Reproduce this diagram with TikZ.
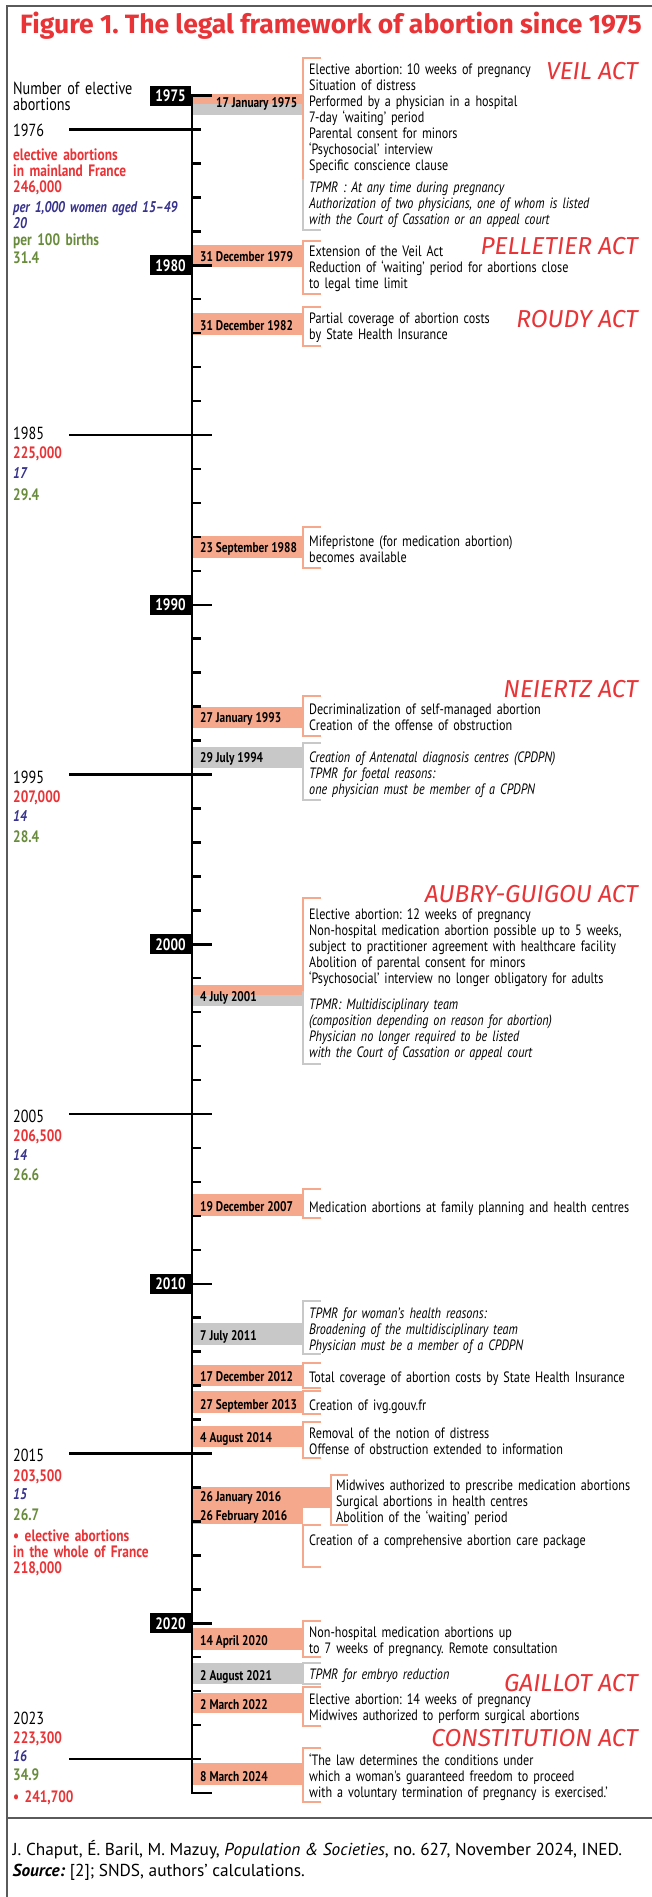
\documentclass[tikz,border=0pt]{standalone}
\usepackage{fontspec}
\setmainfont{PT Sans}
\newfontfamily\cnd[FakeStretch=0.81]{PT Sans}
\newfontfamily\ttl{Fira Sans}
\definecolor{ired}{RGB}{232,52,55}
\definecolor{salm}{RGB}{245,168,140}
\definecolor{lgry}{RGB}{200,200,200}
\definecolor{iblue}{RGB}{55,50,140}
\definecolor{igreen}{RGB}{105,140,60}
\definecolor{frm}{RGB}{90,90,90}
\frenchspacing
\tikzset{
  txt/.style={anchor=base west, inner sep=0pt, text width=345pt, align=left, font=\cnd\frenchspacing\fontsize{15}{16}\selectfont},
  itx/.style={txt, font=\cnd\frenchspacing\itshape\fontsize{15}{16}\selectfont},
  datelbl/.style={anchor=base west, inner sep=0pt, font=\cnd\bfseries\fontsize{14}{16}\selectfont},
  actlbl/.style={anchor=base east, inner sep=0pt, text=ired, font=\ttl\itshape\fontsize{24.5}{28}\selectfont},
  yearbox/.style={fill=black, text=white, inner sep=0pt, minimum width=41pt, minimum height=20pt, font=\cnd\bfseries\fontsize{16.5}{16}\selectfont},
  lyear/.style={anchor=base west, inner sep=0pt, text width=200pt, align=left, font=\cnd\fontsize{17.5}{16}\selectfont},
  lred/.style={anchor=base west, inner sep=0pt, text width=200pt, align=left, text=ired, font=\cnd\bfseries\fontsize{16.5}{16}\selectfont},
  lblue/.style={anchor=base west, inner sep=0pt, text width=200pt, align=left, text=iblue, font=\cnd\bfseries\itshape\fontsize{15.5}{16}\selectfont},
  lgreen/.style={anchor=base west, inner sep=0pt, text width=200pt, align=left, text=igreen, font=\cnd\bfseries\fontsize{16.5}{16}\selectfont},
  brk/.style={draw=salm, line width=2.5pt},
  brkg/.style={draw=lgry, line width=2.5pt},
  yline/.style={draw=black, line width=2.5pt},
  tick/.style={draw=black, line width=2.5pt},
  framel/.style={draw=frm, line width=1.3pt}
}
\begin{document}
\begin{tikzpicture}[x=1pt,y=-1pt]
\useasboundingbox (0,0) rectangle (652,1897);
% frame
\coordinate (f1) at (7,1897); \coordinate (f2) at (7,6); \coordinate (f3) at (652,6);
\coordinate (s1) at (7,1818); \coordinate (s2) at (652,1818);
\draw[framel] (f1) -- (f2) -- (f3);
\draw[framel] (s1) -- (s2);
% title
\node[anchor=base west, inner sep=0pt, text=ired, font=\ttl\bfseries\fontsize{26.5}{28}\selectfont] (title) at (20,34) {Figure 1. The legal framework of abortion since 1975};

% ---- bands ----
\fill[salm] (192,94) rectangle (303,104);
\fill[lgry] (192,104) rectangle (303,115);
\fill[salm] (192,245) rectangle (303,267);
\fill[salm] (192,313) rectangle (303,335);
\fill[salm] (192,536) rectangle (303,558);
\fill[salm] (192,707) rectangle (303,728);
\fill[lgry] (192,747) rectangle (303,768);
\fill[salm] (192,985) rectangle (303,995);
\fill[lgry] (192,995) rectangle (303,1006);
\fill[salm] (192,1194) rectangle (303,1216);
\fill[lgry] (192,1323) rectangle (303,1345);
\fill[salm] (192,1365) rectangle (303,1386);
\fill[salm] (192,1391) rectangle (303,1413);
\fill[salm] (192,1426) rectangle (303,1447);
\fill[salm] (192,1487) rectangle (303,1524);
\fill[salm] (303,1487) rectangle (331,1508);
\fill[salm] (192,1628) rectangle (303,1650);
\fill[lgry] (192,1663) rectangle (303,1684);
\fill[salm] (192,1693) rectangle (303,1713);
\fill[salm] (192,1763) rectangle (303,1785);

% ---- brackets ----
\draw[brk] (321,58) -- (303,58) -- (303,179);
\draw[brkg] (303,179) -- (303,230) -- (321,230);
\draw[brk] (321,241) -- (303,241) -- (303,294) -- (321,294);
\draw[brk] (321,307) -- (303,307) -- (303,346) -- (321,346);
\draw[brk] (321,527) -- (303,527) -- (303,568) -- (321,568);
\draw[brk] (321,696) -- (303,696) -- (303,736) -- (321,736);
\draw[brkg] (321,743) -- (303,743) -- (303,800) -- (321,800);
\draw[brk] (321,898) -- (303,898) -- (303,991);
\draw[brkg] (303,991) -- (303,1064) -- (321,1064);
\draw[brk] (321,1189) -- (303,1189) -- (303,1218) -- (321,1218);
\draw[brkg] (321,1301) -- (303,1301) -- (303,1354) -- (321,1354);
\draw[brk] (321,1363) -- (303,1363) -- (303,1388) -- (321,1388);
\draw[brk] (321,1391) -- (303,1391) -- (303,1414) -- (321,1414);
\draw[brk] (321,1422) -- (303,1422) -- (303,1458) -- (321,1458);
\draw[brk] (348,1475) -- (331,1475) -- (331,1525) -- (348,1525);
\draw[brk] (321,1525) -- (303,1525) -- (303,1567) -- (321,1567);
\draw[brk] (321,1621) -- (303,1621) -- (303,1657) -- (321,1657);
\draw[brkg] (321,1663) -- (303,1663) -- (303,1684) -- (321,1684);
\draw[brk] (321,1687) -- (303,1687) -- (303,1726) -- (321,1726);
\draw[brk] (321,1748) -- (303,1748) -- (303,1802) -- (321,1802);

% ---- left year lines ----
\coordinate (a1976) at (69,129.5);  \coordinate (b1976) at (192,129.5);
\coordinate (a1985) at (69,435);    \coordinate (b1985) at (192,435);
\coordinate (a1995) at (69,774.5);  \coordinate (b1995) at (192,774.5);
\coordinate (a2005) at (69,1114);   \coordinate (b2005) at (192,1114);
\coordinate (a2015) at (69,1453.5); \coordinate (b2015) at (192,1453.5);
\coordinate (a2023) at (69,1759);   \coordinate (b2023) at (192,1759);
\foreach \n in {1976,1985,1995,2005,2015,2023} {\draw[yline] (a\n) -- (b\n);}

% ---- ticks ----
\foreach \k in {0,...,49} {
  \pgfmathsetmacro\yy{95.5+33.95*\k}
  \pgfmathtruncatemacro\mm{mod(\k,5)}
  \ifnum\mm=0 \draw[tick] (192,\yy) -- (212,\yy); \else \draw[tick] (192,\yy) -- (201,\yy); \fi
}
% ---- axis ----
\coordinate (axtop) at (192,94.3);
\coordinate (axbot) at (192,1793);
\coordinate (axhook) at (212,1793);
\draw[line width=2.7pt, line join=miter] (axtop) -- (axbot) -- (axhook);

% ---- year boxes ----
\node[yearbox] (y1975) at (170.5,96) {1975};
\node[yearbox] (y1980) at (170.5,265.3) {1980};
\node[yearbox] (y1990) at (170.5,604.8) {1990};
\node[yearbox] (y2000) at (170.5,944.3) {2000};
\node[yearbox] (y2010) at (170.5,1283.8) {2010};
\node[yearbox] (y2020) at (170.5,1623.3) {2020};

% ---- date labels ----
\node[datelbl] (d1) at (216,107.5) {17 January 1975};
\node[datelbl] (d2) at (200,261.5) {31 December 1979};
\node[datelbl] (d3) at (200,330.5) {31 December 1982};
\node[datelbl] (d4) at (200,552.5) {23 September 1988};
\node[datelbl] (d5) at (200,722.5) {27 January 1993};
\node[datelbl] (d6) at (200,762.5) {29 July 1994};
\node[datelbl] (d7) at (200,1001.5) {4 July 2001};
\node[datelbl] (d8) at (200,1211.5) {19 December 2007};
\node[datelbl] (d9) at (200,1340.5) {7 July 2011};
\node[datelbl] (d10) at (200,1381.5) {17 December 2012};
\node[datelbl] (d11) at (200,1409.5) {27 September 2013};
\node[datelbl] (d12) at (200,1442.5) {4 August 2014};
\node[datelbl] (d13) at (200,1501.5) {26 January 2016};
\node[datelbl] (d13b) at (200,1520.5) {26 February 2016};
\node[datelbl] (d14) at (200,1645.5) {14 April 2020};
\node[datelbl] (d15) at (200,1680.5) {2 August 2021};
\node[datelbl] (d16) at (200,1709.5) {2 March 2022};
\node[datelbl] (d17) at (200,1781.5) {8 March 2024};

% ---- event texts ----
\node[txt] (t1) at (309,75) {Elective abortion: 10 weeks of pregnancy\\Situation of distress\\Performed by a physician in a hospital\\7-day ‘waiting’ period\\Parental consent for minors\\‘Psychosocial’ interview\\Specific conscience clause};
\node[itx] (t1i) at (309,193) {TPMR : At any time during pregnancy\\Authorization of two physicians, one of whom is listed\\with the Court of Cassation or an appeal court};
\node[txt] (t2) at (309,256) {Extension of the Veil Act\\Reduction of ‘waiting’ period for abortions close\\to legal time limit};
\node[txt] (t3) at (309,323) {Partial coverage of abortion costs\\by State Health Insurance};
\node[txt] (t4) at (309,546) {Mifepristone (for medication abortion)\\becomes available};
\node[txt] (t5) at (309,714) {Decriminalization of self-managed abortion\\Creation of the offense of obstruction};
\node[itx] (t6) at (309,762) {Creation of Antenatal diagnosis centres (CPDPN)\\TPMR for foetal reasons:\\one physician must be member of a CPDPN};
\node[txt] (t7) at (309,919) {Elective abortion: 12 weeks of pregnancy\\Non-hospital medication abortion possible up to 5 weeks,\\subject to practitioner agreement with healthcare facility\\Abolition of parental consent for minors\\‘Psychosocial’ interview no longer obligatory for adults};
\node[itx] (t7i) at (309,1009) {TPMR: Multidisciplinary team\\(composition depending on reason for abortion)\\Physician no longer required to be listed\\with the Court of Cassation or appeal court};
\node[txt] (t8) at (309,1212) {Medication abortions at family planning and health centres};
\node[itx] (t9) at (309,1318) {TPMR for woman’s health reasons:\\Broadening of the multidisciplinary team\\Physician must be a member of a CPDPN};
\node[txt] (t10) at (309,1382) {Total coverage of abortion costs by State Health Insurance};
\node[txt] (t11) at (309,1410) {Creation of ivg.gouv.fr};
\node[txt] (t12) at (309,1438) {Removal of the notion of distress\\Offense of obstruction extended to information};
\node[txt] (t13a) at (336,1490) {Midwives authorized to prescribe medication abortions\\Surgical abortions in health centres\\Abolition of the ‘waiting’ period};
\node[txt] (t13b) at (309,1545) {Creation of a comprehensive abortion care package};
\node[txt] (t14) at (309,1637) {Non-hospital medication abortions up\\to 7 weeks of pregnancy. Remote consultation};
\node[itx] (t15) at (309,1679) {TPMR for embryo reduction};
\node[txt] (t16) at (309,1704) {Elective abortion: 14 weeks of pregnancy\\Midwives authorized to perform surgical abortions};
\node[txt] (t17) at (309,1765) {‘The law determines the conditions under\\which a woman's guaranteed freedom to proceed\\with a voluntary termination of pregnancy is exercised.’};

% ---- act labels ----
\node[actlbl] (veil) at (638,80) {VEIL ACT};
\node[actlbl] (pell) at (638,254) {PELLETIER ACT};
\node[actlbl] (roudy) at (638,327) {ROUDY ACT};
\node[actlbl] (neiertz) at (638,697) {NEIERTZ ACT};
\node[actlbl] (aubry) at (638,902) {AUBRY-GUIGOU ACT};
\node[actlbl] (gaillot) at (638,1691) {GAILLOT ACT};
\node[actlbl] (constit) at (638,1746) {CONSTITUTION ACT};

% ---- left column ----
\node[lyear] (hdr) at (13,94.5) {Number of elective\\abortions};
\node[lyear] (ly1976) at (13,137) {1976};
\node[lred] (r1976) at (13,160.5) {elective abortions\\in mainland France\\246,000};
\node[lblue] (bl1976) at (13,212) {per 1,000 women aged 15–49\\20};
\node[lgreen] (g1976) at (13,245) {per 100 births};
\node[lgreen] (g1976b) at (13,263) {31.4};

\node[lyear] (ly1985) at (13,439) {1985};
\node[lred] (r1985) at (13,458.5) {225,000};
\node[lblue] (bl1985) at (13,478.5) {17};
\node[lgreen] (g1985) at (13,500.5) {29.4};

\node[lyear] (ly1995) at (13,783) {1995};
\node[lred] (r1995) at (13,802.5) {207,000};
\node[lblue] (bl1995) at (13,821.5) {14};
\node[lgreen] (g1995) at (13,842.5) {28.4};

\node[lyear] (ly2005) at (13,1122) {2005};
\node[lred] (r2005) at (13,1141.5) {206,500};
\node[lblue] (bl2005) at (13,1160.5) {14};
\node[lgreen] (g2005) at (13,1180.5) {26.6};

\node[lyear] (ly2015) at (13,1461) {2015};
\node[lred] (r2015) at (13,1481.5) {203,500};
\node[lblue] (bl2015) at (13,1499.5) {15};
\node[lgreen] (g2015) at (13,1520.5) {26.7};
\node[lred] (r2015b) at (13,1541.5) {• elective abortions\\in the whole of France\\218,000};

\node[lyear] (ly2023) at (13,1724) {2023};
\node[lred] (r2023) at (13,1743.5) {223,300};
\node[lblue] (bl2023) at (13,1761.5) {16};
\node[lgreen] (g2023) at (13,1780.5) {34.9};
\node[lred] (r2023b) at (13,1802.5) {• 241,700};

% ---- footer ----
\node[anchor=base west, inner sep=0pt, font=\frenchspacing\fontsize{17.3}{20}\selectfont] (foot1) at (12.5,1855) {J. Chaput, É. Baril, M. Mazuy, \textit{Population \& Societies}, no. 627, November 2024, INED.};
\node[anchor=base west, inner sep=0pt, font=\frenchspacing\fontsize{17.3}{20}\selectfont] (foot2) at (12.5,1876) {\textbf{\textit{Source:}} [2]; SNDS, authors’ calculations.};
\end{tikzpicture}
\end{document}
